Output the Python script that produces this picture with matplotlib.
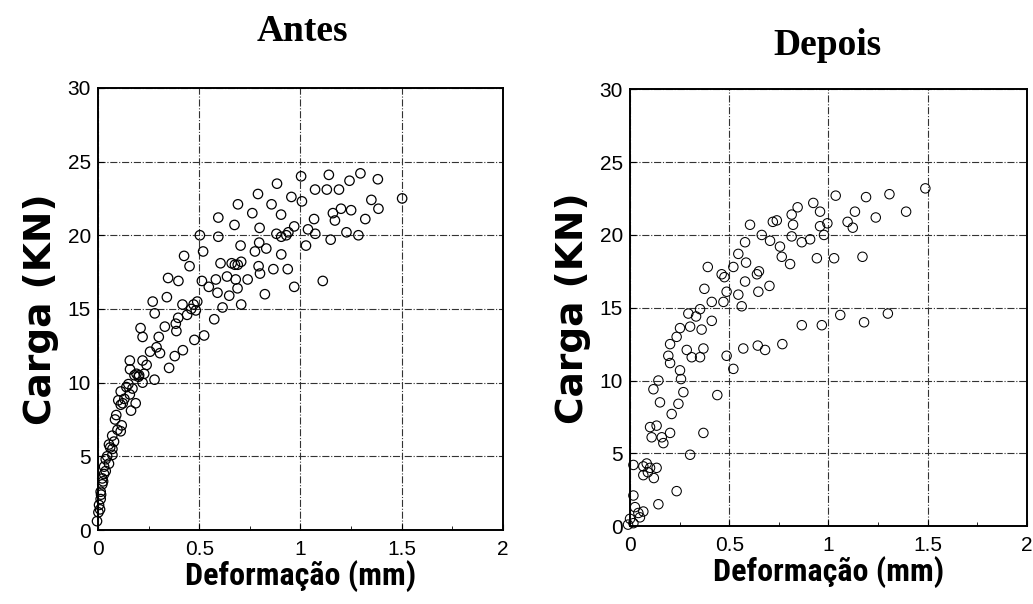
import matplotlib.pyplot as plt
from matplotlib.ticker import MultipleLocator

# Antes (before) - deformation (mm), load (kN)
antes_x = [1.003, 1.14, 1.296, 1.382, 1.242, 0.884, 1.072, 1.13, 1.19, 0.79,
           0.955, 1.007, 0.691, 0.857, 1.502, 1.35, 1.385, 1.25, 1.2, 1.16,
           0.762, 0.904, 0.594, 1.067, 1.17, 1.32, 0.674, 0.798, 0.969, 1.037,
           0.881, 0.905, 0.93, 0.94, 1.073, 1.227, 1.286, 1.149, 0.503, 0.594,
           1.027, 0.704, 0.796, 0.831, 0.775, 0.519, 0.425, 0.452, 0.605, 0.676,
           0.707, 0.905, 0.793, 0.866, 0.937, 0.80, 0.346, 0.397, 0.513, 0.582,
           0.637, 0.739, 0.68, 1.11, 0.969, 0.547, 0.59, 0.689, 0.824, 0.34,
           0.648, 0.707, 0.615, 0.27, 0.28, 0.417, 0.472, 0.483, 0.396, 0.574,
           0.384, 0.33, 0.387, 0.21, 0.22, 0.30, 0.524, 0.476, 0.289, 0.257,
           0.306, 0.419, 0.22, 0.157, 0.379, 0.351, 0.158, 0.203, 0.228, 0.279,
           0.22, 0.15, 0.112, 0.157, 0.186, 0.122, 0.112, 0.163, 0.084, 0.117,
           0.096, 0.112, 0.07, 0.079, 0.054, 0.071, 0.071, 0.038, 0.054, 0.03,
           0.038, 0.021, 0.021, 0.013, 0.013, 0.005, 0.002, -0.005, 0.045, 0.06,
           0.03, 0.025, 0.015, 0.01, 0.09, 0.13, 0.17, 0.2, 0.24, 0.44,
           0.46, 0.49, 0.66, 0.69, 0.18, 0.19, 0.1, 0.14]
antes_y = [24.0, 24.1, 24.2, 23.8, 23.7, 23.5, 23.1, 23.1, 23.1, 22.8,
           22.6, 22.3, 22.1, 22.1, 22.5, 22.4, 21.8, 21.7, 21.8, 21.5,
           21.5, 21.4, 21.2, 21.1, 21.0, 21.1, 20.7, 20.5, 20.6, 20.4,
           20.1, 19.9, 20.0, 20.2, 20.1, 20.2, 20.0, 19.7, 20.0, 19.9,
           19.3, 19.3, 19.5, 19.1, 18.9, 18.9, 18.6, 17.9, 18.1, 18.0,
           18.2, 18.7, 17.9, 17.7, 17.7, 17.4, 17.1, 16.9, 16.9, 17.0,
           17.2, 17.0, 17.0, 16.9, 16.5, 16.5, 16.1, 16.4, 16.0, 15.8,
           15.9, 15.3, 15.1, 15.5, 14.7, 15.3, 15.3, 14.9, 14.4, 14.3,
           14.0, 13.8, 13.5, 13.7, 13.1, 13.1, 13.2, 12.9, 12.4, 12.1,
           12.0, 12.2, 11.5, 11.5, 11.8, 11.0, 10.9, 10.5, 10.6, 10.2,
           10.0, 9.9, 9.4, 9.2, 8.6, 8.6, 8.5, 8.1, 7.5, 7.1,
           6.8, 6.7, 6.4, 6.0, 5.8, 5.5, 5.1, 4.8, 4.5, 4.3,
           4.0, 3.5, 3.1, 2.6, 2.1, 1.7, 1.2, 0.6, 5.0, 5.6,
           3.8, 3.3, 2.4, 1.4, 7.8, 8.9, 9.6, 10.4, 11.2, 14.6,
           15.0, 15.5, 18.1, 18.0, 10.5, 10.6, 8.8, 9.7]

# Depois (after)
depois_x = [1.489, 1.308, 1.19, 1.037, 0.924, 0.845, 0.815, 0.958, 1.134, 1.392,
            1.239, 0.72, 0.74, 0.822, 0.605, 0.995, 0.958, 1.097, 1.123, 0.664,
            0.706, 0.978, 0.815, 0.866, 0.908, 0.58, 0.756, 0.546, 0.585, 0.765,
            0.807, 0.942, 1.029, 1.172, 0.392, 0.462, 0.476, 0.521, 0.65, 0.64,
            0.58, 0.703, 0.375, 0.487, 0.546, 0.647, 0.412, 0.471, 0.563, 0.353,
            0.294, 0.333, 0.412, 0.303, 0.361, 0.252, 0.235, 0.202, 0.866, 0.967,
            1.06, 1.18, 1.30, 0.286, 0.311, 0.353, 0.37, 0.193, 0.202, 0.571,
            0.644, 0.681, 0.768, 0.487, 0.521, 0.252, 0.257, 0.143, 0.118, 0.269,
            0.44, 0.151, 0.244, 0.21, 0.101, 0.134, 0.109, 0.16, 0.202, 0.168,
            0.37, 0.303, 0.017, 0.067, 0.084, 0.101, 0.134, 0.067, 0.235, 0.017,
            0.143, 0.025, 0.067, 0.042, 0.0, 0.017, -0.01, 0.09, 0.05, 0.12]
depois_y = [23.2, 22.8, 22.6, 22.7, 22.2, 21.9, 21.4, 21.6, 21.6, 21.6,
            21.2, 20.9, 21.0, 20.7, 20.7, 20.8, 20.6, 20.9, 20.5, 20.0,
            19.6, 20.0, 19.9, 19.5, 19.7, 19.5, 19.2, 18.7, 18.1, 18.5,
            18.0, 18.4, 18.4, 18.5, 17.8, 17.3, 17.1, 17.8, 17.5, 17.3,
            16.8, 16.5, 16.3, 16.1, 15.9, 16.1, 15.4, 15.4, 15.1, 14.9,
            14.6, 14.4, 14.1, 13.7, 13.5, 13.6, 13.0, 12.5, 13.8, 13.8,
            14.5, 14.0, 14.6, 12.1, 11.6, 11.6, 12.2, 11.7, 11.2, 12.2,
            12.4, 12.1, 12.5, 11.7, 10.8, 10.7, 10.1, 10.0, 9.4, 9.2,
            9.0, 8.5, 8.4, 7.7, 6.8, 6.9, 6.1, 6.1, 6.4, 5.7,
            6.4, 4.9, 4.2, 4.1, 4.3, 4.0, 4.0, 3.5, 2.4, 2.1,
            1.5, 1.3, 1.0, 0.9, 0.5, 0.2, 0.1, 3.7, 0.6, 3.3]

fig = plt.figure(figsize=(10.33, 6.04), dpi=100)
ax1 = fig.add_axes([0.0949, 0.1225, 0.392, 0.732])
ax2 = fig.add_axes([0.6099, 0.129, 0.384, 0.723])

label_font = ['DejaVu Sans']
narrow_font = ['Roboto Condensed', 'Liberation Sans Narrow', 'Roboto', 'DejaVu Sans']

for ax, xs, ys, lw in [(ax1, antes_x, antes_y, 0.9), (ax2, depois_x, depois_y, 0.75)]:
    ax.scatter(xs, ys, s=46, facecolors='none', edgecolors='black',
               linewidths=lw, clip_on=False, zorder=3)
    ax.set_xlim(0, 2)
    ax.set_ylim(0, 30)
    ax.xaxis.set_minor_locator(MultipleLocator(0.25))
    ax.yaxis.set_major_locator(MultipleLocator(5))
    ax.set_xticks([0, 0.5, 1, 1.5, 2])
    ax.set_xticklabels(['0', '0.5', '1', '1.5', '2'])
    ax.grid(True, which='major', linestyle='-.', linewidth=0.8, color='0.2')
    ax.tick_params(which='both', direction='in', labelsize=15)
    ax.tick_params(axis='x', pad=7)
    ax.tick_params(axis='y', pad=5)
    ax.tick_params(which='major', length=4)
    ax.tick_params(which='minor', length=3)
    for lab in ax.get_xticklabels() + ax.get_yticklabels():
        lab.set_family(['Liberation Sans', 'DejaVu Sans'])
    for sp in ax.spines.values():
        sp.set_linewidth(1.4)
    ax.set_ylabel('Carga (KN)', family=label_font, fontweight='heavy',
                  fontsize=27, labelpad=6)
    ax.set_xlabel('Deformação (mm)', family=narrow_font, fontweight='bold',
                  fontsize=23, labelpad=1)

fig.text(0.293, 0.948, 'Antes', family=['Liberation Serif', 'DejaVu Serif'],
         fontweight='bold', fontsize=27, ha='center', va='center')
fig.text(0.801, 0.924, 'Depois', family=['Liberation Serif', 'DejaVu Serif'],
         fontweight='bold', fontsize=27, ha='center', va='center')

fig.savefig('out.png', dpi=100)
